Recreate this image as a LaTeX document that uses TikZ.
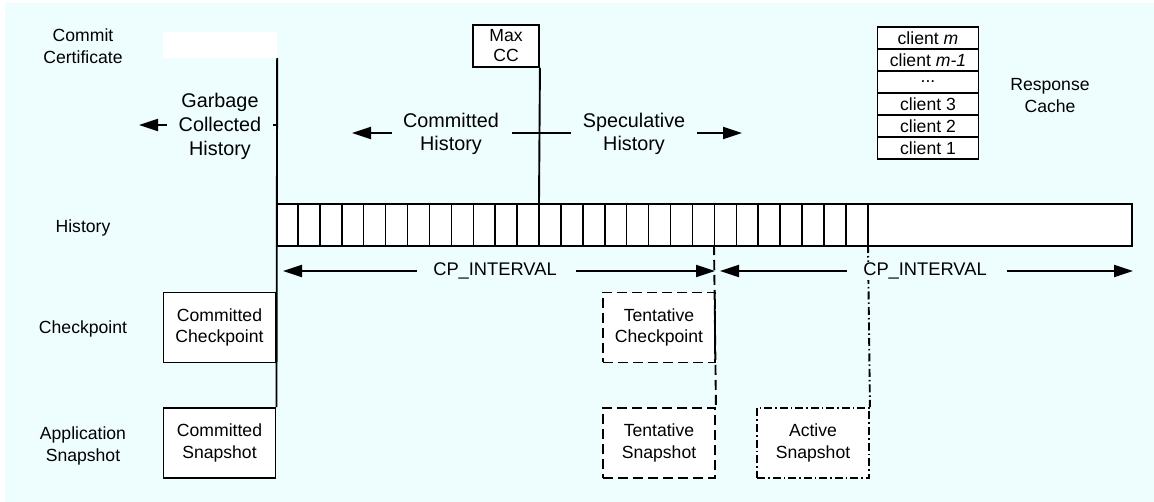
\documentclass[tikz,border=0pt]{standalone}
\usepackage{fontspec}
\setmainfont{Liberation Sans}
\usetikzlibrary{arrows.meta}
\definecolor{bgc}{RGB}{238,254,255}
\begin{document}
\begin{tikzpicture}[x=1pt,y=-1pt,
  txt/.style={inner sep=0pt, align=center, font=\fontsize{17.6}{22}\selectfont},
  big/.style={inner sep=0pt, align=center, font=\fontsize{19.8}{23}\selectfont},
  box/.style={draw, line width=1.9pt, fill=white, inner sep=0pt, align=center,
    font=\fontsize{17.6}{21.5}\selectfont, minimum width=112pt, minimum height=70pt},
  dashbox/.style={box, dash pattern=on 10pt off 5pt},
  dotbox/.style={box, dash pattern=on 8pt off 3pt on 1.5pt off 3pt},
  row/.style={draw, line width=1.9pt, fill=white, inner sep=0pt,
    font=\fontsize{17.6}{20}\selectfont, minimum width=101pt, minimum height=22pt},
  ln/.style={line width=1.9pt},
  arr/.style={line width=1.9pt, -{Triangle[length=19pt,width=12pt]}}
]
\useasboundingbox (0,0) rectangle (1154,502);
\fill[bgc] (5,3) rectangle (1154,502);

% left labels
\node[txt] (lcc) at (83,46) {Commit\\Certificate};
\node[txt] (lhist) at (83,228) {History};
\node[txt] (lcp) at (83,329) {Checkpoint};
\node[txt] (lsnap) at (83,446) {Application\\Snapshot};

% commit certificate (white, unframed)
\node[fill=white, inner sep=0pt, minimum width=114pt, minimum height=26pt] (ccbox) at (220,45) {};

% committed boxes
\node[box] (ccp) at (219.5,327.5) {Committed\\Checkpoint};
\node[box] (csnap) at (219.5,443) {Committed\\Snapshot};

% tentative boxes
\node[dashbox] (tcp) at (659,327.5) {Tentative\\Checkpoint};
\node[dashbox] (tsnap) at (659,443) {Tentative\\Snapshot};

% active snapshot
\node[dotbox] (asnap) at (813,443) {Active\\Snapshot};

% history bar
\node[draw, line width=1.9pt, fill=white, inner sep=0pt, minimum width=855pt,
  minimum height=42pt, anchor=north west] (hist) at (276,203) {};
\foreach \k in {1,...,27} {
  \draw[line width=1.5pt] (276+\k*21.92,203) -- (276+\k*21.92,245);
}

% main vertical line
\draw[ln] (ccbox.south east) -- (csnap.north east);
\draw[ln] (273,125) -- (276,125);

% Max CC
\node[draw, line width=1.9pt, fill=white, inner sep=0pt, align=center,
  font=\fontsize{17.6}{20}\selectfont, minimum width=66pt, minimum height=42pt] (maxcc) at (506,46) {Max\\CC};
\coordinate (mcb) at (539,203);
\draw[ln] (maxcc.south east) -- (mcb);

% tentative / active lines
\coordinate (tl) at (714,245);
\coordinate (al) at (868,245);
\draw[ln, dash pattern=on 10pt off 5pt] (tl) -- (tsnap.north east);
\draw[ln, dash pattern=on 8pt off 3pt on 1.5pt off 3pt] (al) -- (asnap.north east);

% garbage collected history
\node[big, font=\fontsize{19.8}{24}\selectfont] (gch) at (220,126) {Garbage\\Collected\\History};
\coordinate (g1) at (167,125); \coordinate (g2) at (139,125);
\draw[arr] (g1) -- (g2);

% committed / speculative history
\node[big] (chist) at (451,134) {Committed\\History};
\node[big] (shist) at (634,134) {Speculative\\History};
\coordinate (c1) at (392,133); \coordinate (c2) at (352,133);
\draw[arr] (c1) -- (c2);
\coordinate (m1) at (512,133); \coordinate (m2) at (571,133);
\draw[ln] (m1) -- (m2);
\coordinate (s1) at (697,133); \coordinate (s2) at (742,133);
\draw[arr] (s1) -- (s2);

% CP_INTERVAL arrows
\node[txt, font=\fontsize{18.3}{22}\selectfont] (cpi1) at (495,271) {CP\_INTERVAL};
\node[txt, font=\fontsize{18.3}{22}\selectfont, fill=bgc, inner sep=1pt] (cpi2) at (925,271) {CP\_INTERVAL};
\coordinate (a1) at (417,271); \coordinate (a2) at (283,271);
\coordinate (a3) at (576,271); \coordinate (a4) at (715,271);
\coordinate (a5) at (847,271); \coordinate (a6) at (720,271);
\coordinate (a7) at (1007,271); \coordinate (a8) at (1133,271);
\draw[arr] (a1) -- (a2);
\draw[arr] (a3) -- (a4);
\draw[arr] (a5) -- (a6);
\draw[arr] (a7) -- (a8);

% response cache
\node[row] (r6) at (928,38) {client \textit{m}};
\node[row] (r5) at (928,60) {client \textit{m-1}};
\node[row] (r4) at (928,82) {...};
\node[row] (r3) at (928,104) {client 3};
\node[row] (r2) at (928,126) {client 2};
\node[row] (r1) at (928,148) {client 1};
\node[txt] (rc) at (1050,96) {Response\\Cache};
\end{tikzpicture}
\end{document}
